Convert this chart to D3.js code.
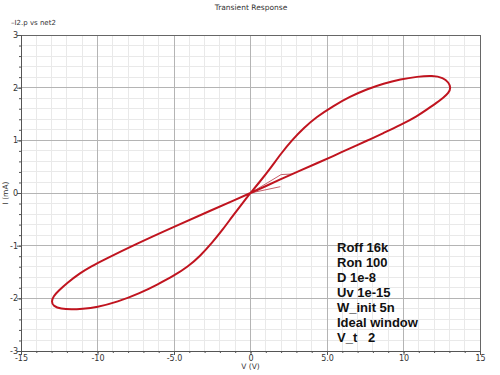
<!DOCTYPE html>
<html>
<head>
<meta charset="utf-8">
<script src="https://cdn.jsdelivr.net/npm/d3@7"></script>
<style>
  html, body { margin: 0; padding: 0; background: #fff; }
  svg { display: block; }
</style>
</head>
<body>
<svg id="chart" width="500" height="375"></svg>
<script>
// ---- data ----
const xTickValues = [-15, -10, -5, 0, 5, 10, 15];
const xTickLabels = ["-15", "-10", "-5.0", "0", "5.0", "10", "15"];
const yTickValues = [-3, -2, -1, 0, 1, 2, 3];
const yTickLabels = ["-3", "-2", "-1", "0", "1", "2", "3"];

// main hysteresis loop, V (volts) and I (mA), in drawing order
const loopV = [0, 0.6, 1.3, 2.0, 2.7, 3.5, 4.3, 5.4, 6.5, 7.6, 8.7, 9.8, 10.9, 11.9, 12.6, 12.95, 13.1, 12.95, 12.6, 12.2, 11.5, 10.9, 9.8, 8.7, 7.6, 6.5, 5.4, 4.3, 3.2, 2.1, 1.0, 0,
               -1.0, -2.5, -5.0, -7.5, -9.6, -10.4, -11.15, -12.0, -12.56, -12.88, -13.02, -12.88, -12.4, -11.7, -11.0, -10.05, -8.7, -7.2, -6.1, -5.0, -4.1, -3.3, -2.5, -1.8, -1.2, -0.7, -0.3, 0];
const loopI = [0, 0.21, 0.47, 0.75, 1.0, 1.24, 1.44, 1.65, 1.83, 1.97, 2.08, 2.16, 2.21, 2.23, 2.19, 2.1, 2.0, 1.9, 1.81, 1.72, 1.58, 1.46, 1.29, 1.14, 0.99, 0.85, 0.70, 0.56, 0.42, 0.28, 0.13, 0,
               -0.13, -0.32, -0.64, -0.97, -1.27, -1.39, -1.52, -1.71, -1.86, -1.96, -2.06, -2.15, -2.2, -2.21, -2.2, -2.17, -2.07, -1.9, -1.74, -1.57, -1.40, -1.2, -0.94, -0.69, -0.45, -0.26, -0.11, 0];

// initial transient strokes near the origin
const startAV = [0, 2.0, 2.7];
const startAI = [0, 0.35, 0.36];
const startBV = [0, 1.95];
const startBI = [0, 0.12];

const annotation = ["Roff 16k", "Ron 100", "D 1e-8", "Uv 1e-15", "W_init 5n", "Ideal window", "V_t   2"];

// ---- layout ----
const svg = d3.select("#chart");
const pLeft = 21, pRight = 480, pTop = 35, pBottom = 351;
const x = d3.scaleLinear().domain([-15, 15]).range([pLeft, pRight]);
const y = d3.scaleLinear().domain([-3, 3]).range([pBottom, pTop]);

const fontTick = "'DejaVu Sans', sans-serif";
const minorX = d3.range(-15, 16, 1);
const minorY = d3.range(-15, 16, 1).map(d => d / 5);

// minor grid
const g = svg.append("g");
g.selectAll("line.vminor").data(minorX).enter().append("line")
  .attr("x1", d => x(d)).attr("x2", d => x(d)).attr("y1", pTop).attr("y2", pBottom)
  .attr("stroke", "#e9e9e9").attr("stroke-width", 1).attr("shape-rendering", "crispEdges");
g.selectAll("line.hminor").data(minorY).enter().append("line")
  .attr("x1", pLeft).attr("x2", pRight).attr("y1", d => y(d)).attr("y2", d => y(d))
  .attr("stroke", "#e9e9e9").attr("stroke-width", 1).attr("shape-rendering", "crispEdges");
// major grid
g.selectAll("line.vmajor").data(xTickValues).enter().append("line")
  .attr("x1", d => x(d)).attr("x2", d => x(d)).attr("y1", pTop).attr("y2", pBottom)
  .attr("stroke", "#b4b4b4").attr("stroke-width", 1).attr("shape-rendering", "crispEdges");
g.selectAll("line.hmajor").data(yTickValues).enter().append("line")
  .attr("x1", pLeft).attr("x2", pRight).attr("y1", d => y(d)).attr("y2", d => y(d))
  .attr("stroke", "#b4b4b4").attr("stroke-width", 1).attr("shape-rendering", "crispEdges");

// frame
svg.append("rect").attr("x", pLeft).attr("y", pTop).attr("width", pRight - pLeft).attr("height", pBottom - pTop)
  .attr("fill", "none").attr("stroke", "#666").attr("stroke-width", 1).attr("shape-rendering", "crispEdges");

// axes
const xAxis = d3.axisBottom(x).tickValues(xTickValues).tickSize(4)
  .tickFormat((d, i) => xTickLabels[i]);
const xMinor = d3.axisBottom(x).tickValues(minorX).tickSize(2).tickFormat("");
const yAxis = d3.axisLeft(y).tickValues(yTickValues).tickSize(4)
  .tickFormat((d, i) => yTickLabels[i]);
const yMinor = d3.axisLeft(y).tickValues(minorY).tickSize(2).tickFormat("");

function styleAxis(sel) {
  sel.select(".domain").attr("stroke", "#555");
  sel.selectAll(".tick line").attr("stroke", "#555");
  sel.selectAll(".tick text").attr("fill", "#333").style("font-family", fontTick).style("font-size", "8px");
}
svg.append("g").attr("transform", `translate(0,${pBottom})`).call(xMinor).call(styleAxis);
svg.append("g").attr("transform", `translate(0,${pBottom})`).call(xAxis).call(styleAxis)
  .selectAll(".tick text").attr("dy", "0.85em").attr("y", 3);
svg.append("g").attr("transform", `translate(${pLeft},0)`).call(yMinor).call(styleAxis);
svg.append("g").attr("transform", `translate(${pLeft},0)`).call(yAxis).call(styleAxis)
  .selectAll(".tick text").attr("x", -3);

// labels
svg.append("text").attr("x", 251).attr("y", 10).attr("text-anchor", "middle")
  .style("font-family", fontTick).style("font-size", "7.5px").attr("fill", "#333").text("Transient Response");
svg.append("text").attr("x", 11).attr("y", 25)
  .style("font-family", fontTick).style("font-size", "7px").attr("fill", "#333").text("\u2013I2.p vs net2");
svg.append("text").attr("x", 250.5).attr("y", 369).attr("text-anchor", "middle")
  .style("font-family", fontTick).style("font-size", "7.5px").attr("fill", "#333").text("V (V)");
svg.append("text").attr("transform", `translate(8,${y(0)}) rotate(-90)`).attr("text-anchor", "middle")
  .style("font-family", fontTick).style("font-size", "7.5px").attr("fill", "#333").text("I (mA)");

// curves
const straight = d3.line().x(d => x(d[0])).y(d => y(d[1]));
const smooth = d3.line().x(d => x(d[0])).y(d => y(d[1])).curve(d3.curveBasis);
const loop = loopV.map((v, i) => [v, loopI[i]]);
svg.append("path").datum(startAV.map((v, i) => [v, startAI[i]])).attr("d", straight)
  .attr("fill", "none").attr("stroke", "#c4606c").attr("stroke-width", 1);
svg.append("path").datum(startBV.map((v, i) => [v, startBI[i]])).attr("d", straight)
  .attr("fill", "none").attr("stroke", "#c4606c").attr("stroke-width", 1);
svg.append("path").datum(loop).attr("d", smooth)
  .attr("fill", "none").attr("stroke", "#c0141f").attr("stroke-width", 2).attr("stroke-linejoin", "round");

// annotation
svg.append("g").selectAll("text").data(annotation).enter().append("text")
  .attr("x", 337).attr("y", (d, i) => 252 + i * 15)
  .attr("xml:space", "preserve").style("white-space", "pre")
  .style("font-family", "'Liberation Sans', Arial, sans-serif").style("font-size", "13px")
  .style("font-weight", "bold").attr("fill", "#111").text(d => d);
</script>
</body>
</html>
